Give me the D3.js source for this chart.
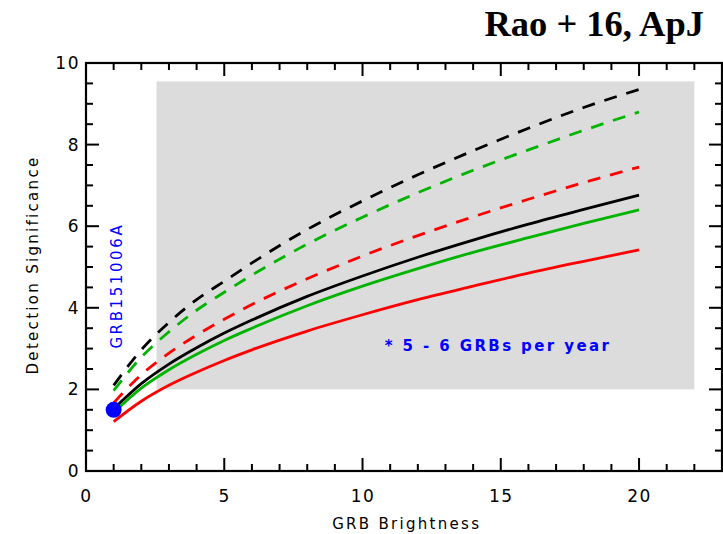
<!DOCTYPE html>
<html>
<head>
<meta charset="utf-8">
<script src="https://cdn.jsdelivr.net/npm/d3@7"></script>
<style>
  body { margin: 0; background: #fff; }
  svg text { font-family: "DejaVu Sans", sans-serif; }
  svg text.cite { font-family: "Liberation Serif", serif; }
</style>
</head>
<body>
<div id="chart"></div>
<script>
// Detection significance vs GRB brightness
var svgWidth = 723;
var svgHeight = 534;

var margin = { top: 63, right: 1, bottom: 63, left: 86 };
var width = svgWidth - margin.left - margin.right;
var height = svgHeight - margin.top - margin.bottom;

// brightness values where the curves were read
var brightness = [1, 2, 3, 4, 5, 6, 8, 10, 12, 14, 16, 18, 20];

// dashed curves
var blackDashed = [2.1, 2.97, 3.64, 4.2, 4.65, 5.1, 5.92, 6.62, 7.26, 7.85, 8.4, 8.91, 9.35];
var greenDashed = [1.97, 2.79, 3.41, 3.94, 4.38, 4.8, 5.56, 6.22, 6.82, 7.37, 7.87, 8.35, 8.8];
var redDashed = [1.67, 2.36, 2.89, 3.33, 3.72, 4.08, 4.71, 5.27, 5.77, 6.23, 6.66, 7.07, 7.45];

// solid curves
var blackSolid = [1.52, 2.14, 2.62, 3.02, 3.38, 3.7, 4.28, 4.78, 5.24, 5.66, 6.05, 6.41, 6.76];
var greenSolid = [1.43, 2.03, 2.48, 2.86, 3.2, 3.5, 4.05, 4.53, 4.96, 5.36, 5.72, 6.07, 6.4];
var redSolid = [1.21, 1.71, 2.1, 2.42, 2.71, 2.97, 3.43, 3.83, 4.2, 4.53, 4.85, 5.14, 5.42];

// shaded region [x0, x1] and [y0, y1]
var shadeX = [2.55, 22];
var shadeY = [2, 9.55];

// observed burst
var grbPoint = { x: 1, y: 1.5, name: "GRB151006A" };

var xTicks = [0, 5, 10, 15, 20];
var yTicks = [0, 2, 4, 6, 8, 10];

var svg = d3.select("#chart")
  .append("svg")
  .attr("width", svgWidth)
  .attr("height", svgHeight);

var chartGroup = svg.append("g")
  .attr("transform", `translate(${margin.left}, ${margin.top})`);

var xScale = d3.scaleLinear().domain([0, 23]).range([0, width]);
var yScale = d3.scaleLinear().domain([0, 10]).range([height, 0]);

// gray band
chartGroup.append("rect")
  .attr("x", xScale(shadeX[0]))
  .attr("y", yScale(shadeY[1]))
  .attr("width", xScale(shadeX[1]) - xScale(shadeX[0]))
  .attr("height", yScale(shadeY[0]) - yScale(shadeY[1]))
  .attr("fill", "#dcdcdc");

// curves
var line = d3.line()
  .x((d, i) => xScale(brightness[i]))
  .y(d => yScale(d))
  .curve(d3.curveMonotoneX);

var curves = [
  { v: blackDashed, c: "#000", dash: "13,10" },
  { v: greenDashed, c: "#00b400", dash: "13,10" },
  { v: redDashed, c: "#ff0000", dash: "13,10" },
  { v: blackSolid, c: "#000", dash: null },
  { v: greenSolid, c: "#00b400", dash: null },
  { v: redSolid, c: "#ff0000", dash: null }
];

chartGroup.selectAll(".curve")
  .data(curves)
  .join("path")
  .attr("class", "curve")
  .attr("d", d => line(d.v))
  .attr("fill", "none")
  .attr("stroke", d => d.c)
  .attr("stroke-width", 2.8)
  .attr("stroke-dasharray", d => d.dash);

// blue dot for the burst
chartGroup.append("circle")
  .attr("cx", xScale(grbPoint.x))
  .attr("cy", yScale(grbPoint.y))
  .attr("r", 8)
  .attr("fill", "#0000ff");

chartGroup.append("text")
  .attr("transform", `translate(${xScale(grbPoint.x) + 8}, ${yScale(3.0)}) rotate(-90)`)
  .attr("font-size", "15px")
  .style("letter-spacing", "2.6px")
  .attr("fill", "#0000ff")
  .text(grbPoint.name);

chartGroup.append("text")
  .attr("x", xScale(10.8))
  .attr("y", yScale(2.95))
  .attr("font-size", "15px")
  .attr("font-weight", "bold")
  .style("letter-spacing", "2.4px")
  .attr("fill", "#0000ff")
  .text("* 5 - 6 GRBs per year");

// axes, IDL style ticks on all sides
var bottomAxis = d3.axisBottom(xScale).tickValues(xTicks).tickSize(0).tickPadding(19);
var leftAxis = d3.axisLeft(yScale).tickValues(yTicks).tickSize(0).tickPadding(6);

var xAxisG = chartGroup.append("g")
  .attr("transform", `translate(0, ${height})`)
  .call(bottomAxis);
var yAxisG = chartGroup.append("g").call(leftAxis);

[xAxisG, yAxisG].forEach(g => {
  g.select(".domain").remove();
  g.selectAll("text")
    .attr("font-size", "17px")
    .style("letter-spacing", "1.5px")
    .attr("fill", "#000");
});

var xMinor = d3.range(1, 23);
var yMinor = d3.range(0.5, 10, 0.5);

var tickG = chartGroup.append("g").attr("stroke", "#000").attr("stroke-width", 2);

// bottom and top ticks
tickG.selectAll(".xt")
  .data(xMinor)
  .join("line")
  .attr("class", "xt")
  .attr("x1", d => xScale(d)).attr("x2", d => xScale(d))
  .attr("y1", height)
  .attr("y2", d => height - (d % 5 === 0 ? 13 : 7));
tickG.selectAll(".xtt")
  .data(xMinor)
  .join("line")
  .attr("class", "xtt")
  .attr("x1", d => xScale(d)).attr("x2", d => xScale(d))
  .attr("y1", 0)
  .attr("y2", d => (d % 5 === 0 ? 13 : 7));

// left and right ticks
tickG.selectAll(".yt")
  .data(yMinor)
  .join("line")
  .attr("class", "yt")
  .attr("y1", d => yScale(d)).attr("y2", d => yScale(d))
  .attr("x1", 0)
  .attr("x2", d => (d % 2 === 0 ? 13 : 7));
tickG.selectAll(".ytr")
  .data(yMinor)
  .join("line")
  .attr("class", "ytr")
  .attr("y1", d => yScale(d)).attr("y2", d => yScale(d))
  .attr("x1", width)
  .attr("x2", d => width - (d % 2 === 0 ? 13 : 7));

// frame
chartGroup.append("rect")
  .attr("width", width)
  .attr("height", height)
  .attr("fill", "none")
  .attr("stroke", "#000")
  .attr("stroke-width", 2.2);

// axis titles
chartGroup.append("text")
  .attr("transform", `translate(${-48}, ${height / 2 - 2}) rotate(-90)`)
  .attr("text-anchor", "middle")
  .attr("font-size", "15px")
  .style("letter-spacing", "2.3px")
  .text("Detection Significance");

chartGroup.append("text")
  .attr("x", xScale(11.6))
  .attr("y", height + 58)
  .attr("text-anchor", "middle")
  .attr("font-size", "15px")
  .style("letter-spacing", "2.3px")
  .text("GRB Brightness");

// citation
svg.append("text")
  .attr("class", "cite")
  .attr("x", 704)
  .attr("y", 36)
  .attr("text-anchor", "end")
  .attr("font-weight", "bold")
  .attr("font-size", "36.5px")
  .text("Rao + 16, ApJ");
</script>
</body>
</html>
